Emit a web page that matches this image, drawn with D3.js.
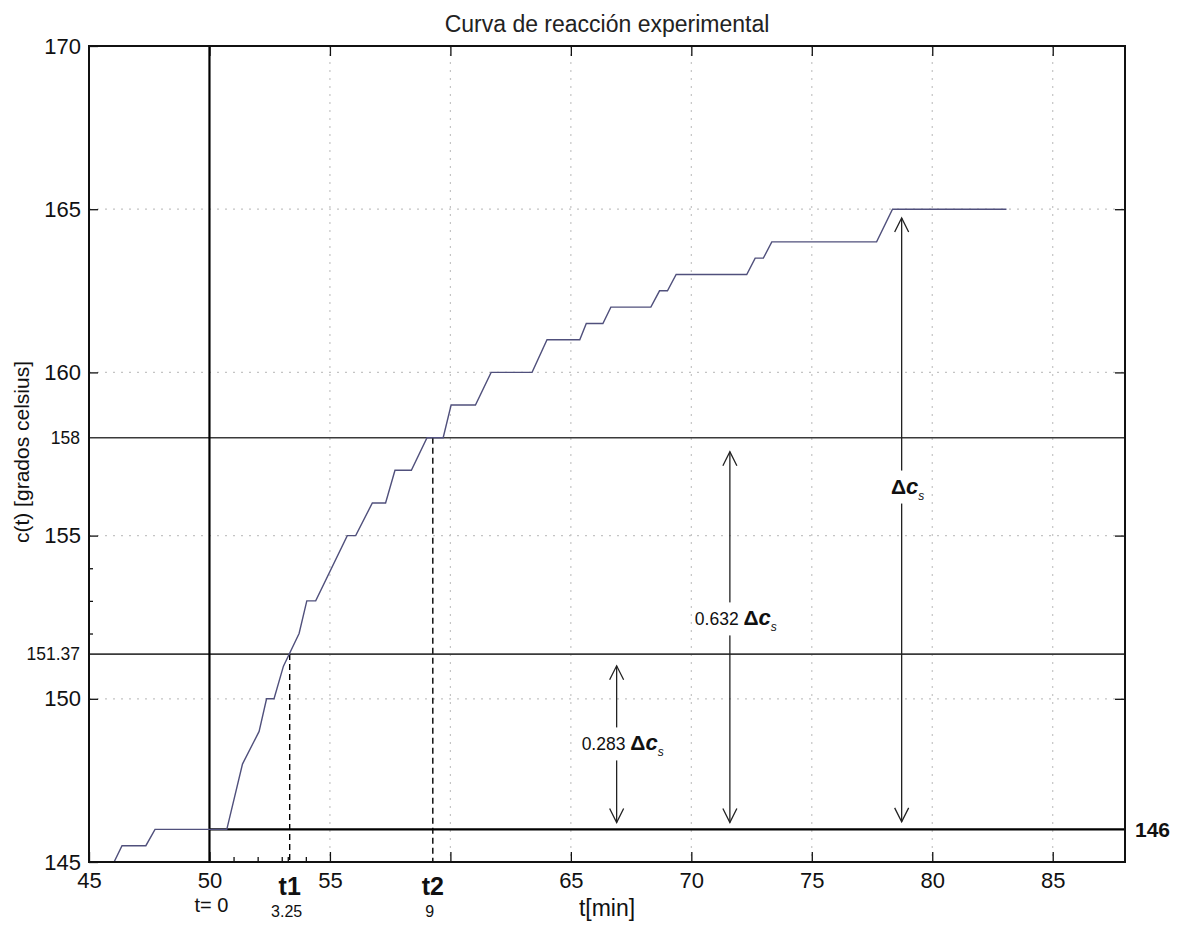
<!DOCTYPE html>
<html>
<head>
<meta charset="utf-8">
<script src="https://cdn.jsdelivr.net/npm/d3@7"></script>
<style>
  body { margin: 0; background: #fff; }
  text { font-family: "Liberation Sans", Arial, Helvetica, sans-serif; }
</style>
</head>
<body>
<svg id="chart" width="1182" height="925"></svg>
<script>
// measured curve (stepped temperature record)
const timeMin = [45, 46.04, 46.37, 47.36, 47.74, 50.72, 51.37, 52.06, 52.37, 52.68, 53.07, 53.72,
  54.04, 54.41, 55.72, 56.07, 56.76, 57.31, 57.70, 58.38, 59.03, 59.70, 60.03, 61.04, 61.69,
  63.39, 64.01, 65.37, 65.64, 66.33, 66.66, 68.32, 68.68, 69.01, 69.37, 72.30, 72.65, 72.99,
  73.34, 77.69, 78.35, 83.08];
const tempC = [145, 145, 145.5, 145.5, 146, 146, 148, 149, 150, 150, 151, 152,
  153, 153, 155, 155, 156, 156, 157, 157, 158, 158, 159, 159, 160,
  160, 161, 161, 161.5, 161.5, 162, 162, 162.5, 162.5, 163, 163, 163.5, 163.5,
  164, 164, 165, 165];

// axes ticks
const xTicks = [45, 50, 55, 60, 65, 70, 75, 80, 85];
const xTickLabels = ["45", "50", "55", "", "65", "70", "75", "80", "85"];
const xMinorTicks = [51, 52, 53, 53.25, 54];
const yTicks = [145, 150, 155, 160, 165, 170];
const yMinorTicks = [152, 153, 154];
const gridX = [55, 60, 65, 70, 75, 80, 85];
const gridY = [150, 155, 160, 165];

// reference levels
const refLevels = [158, 151.37];
const baseLevel = 146;
const startTime = 50;

// characteristic times
const markTimes = [53.33, 59.27];
const markLevels = [151.37, 158];
const markNames = ["t1", "t2"];
const markValues = ["3.25", "9"];

// arrows: x, from, to, label factor, label level
const arrowX = [66.9, 71.6, 78.73];
const arrowLow = [146.21, 146.21, 146.23];
const arrowHigh = [151.01, 157.57, 164.73];
const arrowFactor = ["0.283 ", "0.632 ", ""];
const arrowLabelY = [148.59, 152.42, 156.46];

const svg = d3.select("#chart");
const W = 1182, H = 925;
const m = { left: 89, right: 57, top: 46, bottom: 63 };
const pw = W - m.left - m.right, ph = H - m.top - m.bottom;

const x = d3.scaleLinear().domain([45, 88]).range([0, pw]);
const y = d3.scaleLinear().domain([145, 170]).range([ph, 0]);

svg.append("rect").attr("width", W).attr("height", H).attr("fill", "#fff");

// title
svg.append("text")
  .attr("x", m.left + pw / 2).attr("y", 32)
  .attr("text-anchor", "middle")
  .attr("font-size", 23).attr("fill", "#222")
  .text("Curva de reacción experimental");

const g = svg.append("g").attr("transform", `translate(${m.left},${m.top})`);

// dotted grid
g.selectAll(".gx").data(gridX).join("line")
  .attr("x1", d => x(d)).attr("x2", d => x(d))
  .attr("y1", 0).attr("y2", ph)
  .attr("stroke", "#c4c4c4").attr("stroke-width", 1.2).attr("stroke-dasharray", "2,6");
g.selectAll(".gy").data(gridY).join("line")
  .attr("y1", d => y(d)).attr("y2", d => y(d))
  .attr("x1", 0).attr("x2", pw)
  .attr("stroke", "#c4c4c4").attr("stroke-width", 1.2).attr("stroke-dasharray", "2,6");

// axes with inward ticks
function styleAxis(sel, size) {
  sel.select(".domain").remove();
  sel.selectAll("line").attr("stroke", "#111").attr("stroke-width", 1.3);
  sel.selectAll("text").attr("font-size", size).attr("fill", "#111");
}

g.append("g").attr("transform", `translate(0,${ph})`)
  .call(d3.axisBottom(x).tickValues(xTicks).tickSizeInner(-10).tickSizeOuter(0).tickPadding(10)
    .tickFormat((d, i) => xTickLabels[i]))
  .call(s => styleAxis(s, 22));
g.append("g").attr("transform", `translate(0,${ph})`)
  .call(d3.axisBottom(x).tickValues(xMinorTicks).tickSizeInner(-5).tickSizeOuter(0).tickFormat(""))
  .call(s => styleAxis(s, 10));
g.append("g")
  .call(d3.axisTop(x).tickValues(xTicks.slice(1)).tickSizeInner(-10).tickSizeOuter(0).tickFormat(""))
  .call(s => styleAxis(s, 10));

g.append("g")
  .call(d3.axisLeft(y).tickValues(yTicks).tickSizeInner(-9).tickSizeOuter(0).tickPadding(8)
    .tickFormat(d3.format("d")))
  .call(s => styleAxis(s, 22));
g.append("g")
  .call(d3.axisLeft(y).tickValues(yMinorTicks).tickSizeInner(-4).tickSizeOuter(0).tickFormat(""))
  .call(s => styleAxis(s, 10));
g.append("g")
  .call(d3.axisLeft(y).tickValues(refLevels).tickSize(0).tickPadding(9).tickFormat(d => String(d)))
  .call(s => styleAxis(s, 17.5));
g.append("g").attr("transform", `translate(${pw},0)`)
  .call(d3.axisRight(y).tickValues(gridY).tickSizeInner(-10).tickSizeOuter(0).tickFormat(""))
  .call(s => styleAxis(s, 10));
g.append("g").attr("transform", `translate(${pw},0)`)
  .call(d3.axisRight(y).tickValues([baseLevel]).tickSize(0).tickPadding(10).tickFormat(d => String(d)))
  .call(s => styleAxis(s, 21))
  .selectAll("text").attr("font-weight", "bold");

// reference lines
g.selectAll(".ref").data(refLevels).join("line")
  .attr("x1", 0).attr("x2", pw)
  .attr("y1", d => y(d)).attr("y2", d => y(d))
  .attr("stroke", "#3a3a3a").attr("stroke-width", 1.6);
g.append("line")
  .attr("x1", x(startTime)).attr("x2", pw)
  .attr("y1", y(baseLevel)).attr("y2", y(baseLevel))
  .attr("stroke", "#000").attr("stroke-width", 2.2);
g.append("line")
  .attr("x1", x(startTime)).attr("x2", x(startTime))
  .attr("y1", 0).attr("y2", ph)
  .attr("stroke", "#000").attr("stroke-width", 2.2);

// dashed drops for t1 / t2
g.selectAll(".drop").data(markTimes).join("line")
  .attr("x1", d => x(d)).attr("x2", d => x(d))
  .attr("y1", (d, i) => y(markLevels[i])).attr("y2", ph)
  .attr("stroke", "#000").attr("stroke-width", 1.4).attr("stroke-dasharray", "6,4");

// curve
const line = d3.line().x((d, i) => x(timeMin[i])).y(d => y(d));
g.append("path").datum(tempC)
  .attr("d", line)
  .attr("fill", "none").attr("stroke", "#50507c").attr("stroke-width", 1.4);

// plot frame
g.append("rect").attr("width", pw).attr("height", ph)
  .attr("fill", "none").attr("stroke", "#111").attr("stroke-width", 2);

// open arrowheads
const defs = svg.append("defs");
defs.append("marker").attr("id", "vhead")
  .attr("viewBox", "-16 -9 18 18").attr("refX", 0).attr("refY", 0)
  .attr("markerUnits", "userSpaceOnUse").attr("markerWidth", 18).attr("markerHeight", 18)
  .attr("orient", "auto-start-reverse")
  .append("path").attr("d", "M-14,-7L0,0L-14,7")
  .attr("fill", "none").attr("stroke", "#222").attr("stroke-width", 1.3);

arrowX.forEach((ax, i) => {
  g.append("line")
    .attr("x1", x(ax)).attr("x2", x(ax))
    .attr("y1", y(arrowLow[i])).attr("y2", y(arrowHigh[i]))
    .attr("stroke", "#222").attr("stroke-width", 1.3)
    .attr("marker-start", "url(#vhead)").attr("marker-end", "url(#vhead)");

  const lg = g.append("g");
  const t = lg.append("text")
    .attr("y", y(arrowLabelY[i])).attr("dy", "0.35em")
    .attr("fill", "#111");
  if (arrowFactor[i]) t.append("tspan").attr("font-size", 17.5).text(arrowFactor[i]);
  t.append("tspan").attr("font-size", 21).attr("font-weight", "bold").text("Δ");
  t.append("tspan").attr("font-size", 22).attr("font-weight", "bold").attr("font-style", "italic").text("c");
  t.append("tspan").attr("font-size", 12).attr("font-style", "italic").attr("dy", 6).text("s");
  const bb = t.node().getBBox();
  const shift = arrowFactor[i] ? -bb.width / 2 + 6 : -bb.width / 2 + 6;
  t.attr("x", x(ax) + shift);
  const b2 = t.node().getBBox();
  lg.insert("rect", "text")
    .attr("x", b2.x - 2).attr("y", b2.y - 3)
    .attr("width", b2.width + 4).attr("height", b2.height + 4)
    .attr("fill", "#fff");
});

// t= 0 and t1 / t2 labels under the axis
g.append("text")
  .attr("x", x(startTime) + 2).attr("y", ph + 50)
  .attr("text-anchor", "middle").attr("font-size", 20).attr("fill", "#111")
  .text("t= 0");
g.selectAll(".mname").data(markNames).join("text")
  .attr("x", (d, i) => x(markTimes[i])).attr("y", ph + 33)
  .attr("text-anchor", "middle").attr("font-size", 25).attr("font-weight", "bold").attr("fill", "#111")
  .text(d => d);
g.selectAll(".mval").data(markValues).join("text")
  .attr("x", (d, i) => x(markTimes[i]) - 3).attr("y", ph + 55)
  .attr("text-anchor", "middle").attr("font-size", 16).attr("fill", "#111")
  .text(d => d);

// axis labels
g.append("text")
  .attr("x", x(66.5)).attr("y", ph + 54)
  .attr("text-anchor", "middle").attr("font-size", 23).attr("fill", "#111")
  .text("t[min]");
svg.append("text")
  .attr("transform", `translate(29,452) rotate(-90)`)
  .attr("text-anchor", "middle").attr("font-size", 21).attr("fill", "#111")
  .text("c(t) [grados celsius]");
</script>
</body>
</html>
